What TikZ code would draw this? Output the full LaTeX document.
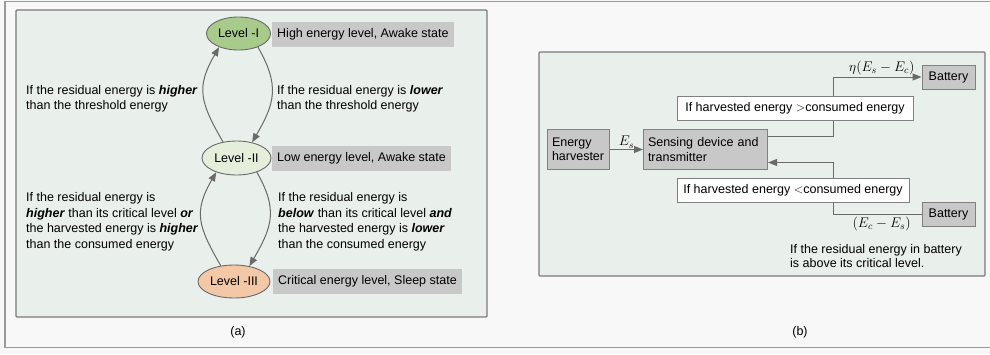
\RequirePackage{fix-cm}
\documentclass[tikz,border=0pt]{standalone}
\usepackage{fontspec}
\setmainfont{Liberation Sans}
\usetikzlibrary{arrows.meta,shapes.geometric}
\definecolor{outerbg}{HTML}{F8F8F8}
\definecolor{framec}{HTML}{9A9A9A}
\definecolor{panelfill}{HTML}{E9EFEB}
\definecolor{panelborder}{HTML}{7A7A7A}
\definecolor{tagfill}{HTML}{C8C8C8}
\definecolor{boxborder}{HTML}{808080}
\definecolor{linec}{HTML}{6A6A6A}
\definecolor{lvA}{HTML}{A8CB8C}
\definecolor{lvB}{HTML}{E5EEDA}
\definecolor{lvC}{HTML}{F2C8A6}
\tikzset{
  lvl/.style={ellipse, draw=linec, line width=0.9pt, inner sep=0pt},
  tag/.style={fill=tagfill, inner xsep=5pt, minimum height=25pt, anchor=west},
  arr/.style={draw=linec, line width=1pt, -{Triangle[length=9pt,width=7pt]}},
  txt/.style={align=left, inner sep=0pt, anchor=north west},
  gbox/.style={draw=boxborder, fill=tagfill, line width=1pt},
  cond/.style={draw=boxborder, fill=white, line width=1pt, minimum height=24pt, inner sep=0pt},
  panel/.style={draw=panelborder, fill=panelfill, line width=1.2pt, rounded corners=1pt},
  bfont/.style={font=\fontsize{12.5}{14.5}\selectfont},
  mlabel/.style={font=\fontsize{14}{16}\selectfont, inner sep=1.5pt}
}
\begin{document}
\begin{tikzpicture}[x=1pt,y=1pt,font=\fontsize{12.5}{15.5}\selectfont]
\useasboundingbox (0,0) rectangle (990,-354);
\fill[outerbg] (0,0) rectangle (990,-354);
\draw[framec, line width=1.5pt] (5,-1.5) rectangle (1000,-347.5);
% panel (a)
\draw[panel] (16,-10) rectangle (487,-317);
\node[lvl, fill=lvA, minimum width=64pt, minimum height=33pt] (l1) at (238.5,-33.5) {Level -I};
\node[lvl, fill=lvB, minimum width=69pt, minimum height=34pt] (l2) at (236.5,-158) {Level -II};
\node[lvl, fill=lvC, minimum width=72pt, minimum height=33pt] (l3) at (234,-281.5) {Level -III};
\node[tag] (t1) at (272,-34.5) {High energy level, Awake state};
\node[tag] (t2) at (272,-158.5) {Low energy level, Awake state};
\node[tag] (t3) at (273,-281) {Critical energy level, Sleep state};
\draw[arr] (l2.130) to[out=120,in=240,looseness=1.25] (l1.215);
\draw[arr] (l1.-35) to[out=-60,in=60,looseness=1.2] (l2.45);
\draw[arr] (l3.130) to[out=120,in=240,looseness=1.25] (l2.215);
\draw[arr] (l2.-35) to[out=-60,in=60,looseness=1.2] (l3.45);
\node[txt] (c1) at (26,-85) {If the residual energy is \textbf{\textit{higher}}\\than the threshold energy};
\node[txt] (c2) at (277,-85) {If the residual energy is \textbf{\textit{lower}}\\than the threshold energy};
\node[txt] (c3) at (26,-192.7) {If the residual energy is\\\textbf{\textit{higher}} than its critical level \textbf{\textit{or}}\\the harvested energy is \textbf{\textit{higher}}\\than the consumed energy};
\node[txt] (c4) at (278,-192.7) {If the residual energy is\\\textbf{\textit{below}} than its critical level \textbf{\textit{and}}\\the harvested energy is \textbf{\textit{lower}}\\than the consumed energy};
\node (capa) at (238,-332) {(a)};
% panel (b)
\draw[panel] (539,-52) rectangle (985,-276);
\node[gbox, bfont, anchor=north west, text width=53pt, align=left, inner xsep=4.5pt, inner ysep=0pt, minimum height=40pt] (harv) at (547,-129) {Energy\\harvester};
\node[gbox, bfont, anchor=north west, text width=115pt, align=left, inner xsep=4.5pt, inner ysep=0pt, minimum height=40pt] (sens) at (643,-129) {Sensing device and\\transmitter};
\node[gbox, minimum width=53pt, minimum height=24pt, inner sep=0pt] (bat1) at (948.5,-77) {Battery};
\node[gbox, minimum width=53pt, minimum height=24pt, inner sep=0pt] (bat2) at (948.5,-214.5) {Battery};
\coordinate (j1) at (833,-77);
\coordinate (j2) at (833,-214.5);
\draw[arr] (harv) -- node[above, mlabel, inner sep=1pt] (es) {$E_s$} (sens);
\draw[arr] ([yshift=13pt]sens.east) -| (j1) -- node[above, mlabel, pos=0.55] (eta) {$\eta(E_s-E_c)$} (bat1);
\draw[arr] (bat2) -- node[below, mlabel, pos=0.45] (ecs) {$(E_c-E_s)$} (j2) |- ([yshift=-13pt]sens.east);
\node[cond, minimum width=236pt] (cu) at (795,-108) {If harvested energy $>$consumed energy};
\node[cond, minimum width=232pt] (cl) at (793,-190) {If harvested energy $<$consumed energy};
\node[txt, bfont] (note) at (790,-244) {If the residual energy in battery\\is above its critical level.};
\node (capb) at (800,-332) {(b)};
\end{tikzpicture}
\end{document}
